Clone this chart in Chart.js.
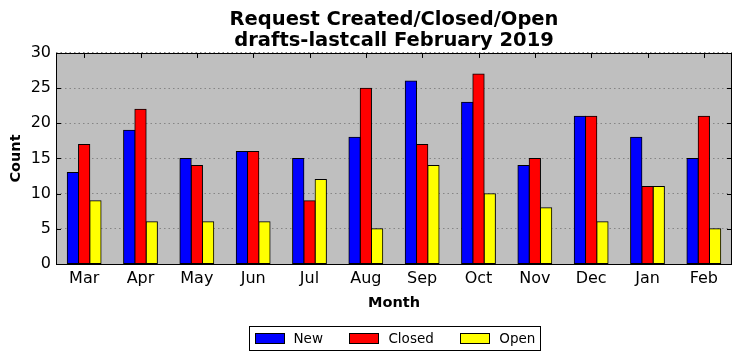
<!DOCTYPE html>
<html>
<head>
<meta charset="utf-8">
<script src="https://cdn.jsdelivr.net/npm/chart.js@4"></script>
<style>
  html, body { margin: 0; padding: 0; background: #fff; }
</style>
</head>
<body>
<canvas id="barChart" width="742" height="361"></canvas>
<script>
const months = ['Mar', 'Apr', 'May', 'Jun', 'Jul', 'Aug', 'Sep', 'Oct', 'Nov', 'Dec', 'Jan', 'Feb'];
const newReqs = [13, 19, 15, 16, 15, 18, 26, 23, 14, 21, 18, 15];
const closedReqs = [17, 22, 14, 16, 9, 25, 17, 27, 15, 21, 11, 21];
const openReqs = [9, 6, 6, 6, 12, 5, 14, 10, 8, 6, 11, 5];
const yTicks = [0, 5, 10, 15, 20, 25, 30];

Chart.defaults.font.family = 'DejaVu Sans';
Chart.defaults.color = '#000';

// matplotlib-ish frame: grey axes background, inward ticks, black border, boxed legend
const framePlugin = {
  id: 'frame',
  beforeDraw(chart) {
    const { ctx, chartArea: a } = chart;
    ctx.save();
    ctx.fillStyle = '#bfbfbf';
    ctx.fillRect(a.left, a.top, a.right - a.left, a.bottom - a.top);
    ctx.restore();
  },
  beforeDatasetsDraw(chart) {
    const { ctx, chartArea: a, scales } = chart;
    ctx.save();
    ctx.strokeStyle = '#000';
    ctx.lineWidth = 1;
    ctx.beginPath();
    months.forEach((m, i) => {
      const x = Math.round(scales.x.getPixelForValue(i)) + 0.5;
      ctx.moveTo(x, a.top); ctx.lineTo(x, a.top + 5);
      ctx.moveTo(x, a.bottom); ctx.lineTo(x, a.bottom - 5);
    });
    yTicks.forEach(v => {
      const y = Math.round(scales.y.getPixelForValue(v)) + 0.5;
      ctx.moveTo(a.left, y); ctx.lineTo(a.left + 5, y);
      ctx.moveTo(a.right, y); ctx.lineTo(a.right - 5, y);
    });
    ctx.stroke();
    ctx.restore();
  },
  afterDatasetsDraw(chart) {
    const { ctx, chartArea: a } = chart;
    ctx.save();
    ctx.strokeStyle = '#000';
    ctx.lineWidth = 1;
    ctx.strokeRect(Math.round(a.left) + 0.5, Math.round(a.top) + 0.5,
      Math.round(a.right - a.left) - 1, Math.round(a.bottom - a.top));
    ctx.restore();
  },
  afterDraw(chart) {
    const { ctx, chartArea: a } = chart;
    const sets = chart.data.datasets;
    ctx.save();
    ctx.font = '13.5px "DejaVu Sans"';
    const sw = 29, gap = 10, between = 26.5, padL = 5, padR = 5;
    const widths = sets.map(d => ctx.measureText(d.label).width);
    let total = padL + padR;
    widths.forEach((w, i) => { total += sw + gap + w + (i < sets.length - 1 ? between : 0); });
    const cx = (a.left + a.right) / 2 + 0.5;
    const bx = Math.round(cx - total / 2) + 0.5, by = 326.5, bh = 24;
    ctx.fillStyle = '#fff';
    ctx.fillRect(bx, by, total, bh);
    ctx.strokeStyle = '#000';
    ctx.lineWidth = 1;
    ctx.strokeRect(bx, by, Math.round(total), bh);
    let x = bx + padL;
    ctx.textBaseline = 'middle';
    sets.forEach((d, i) => {
      const sx = Math.round(x) + 0.5;
      ctx.fillStyle = d.backgroundColor;
      ctx.fillRect(sx, by + 7, sw, 10);
      ctx.strokeRect(sx, by + 7, sw, 10);
      ctx.fillStyle = '#000';
      ctx.fillText(d.label, x + sw + gap, by + bh / 2 + 0.5);
      x += sw + gap + widths[i] + between;
    });
    ctx.restore();
  }
};

const ctx = document.getElementById('barChart').getContext('2d');
new Chart(ctx, {
  type: 'bar',
  data: {
    labels: months,
    datasets: [
      { label: 'New', data: newReqs, backgroundColor: '#0000ff' },
      { label: 'Closed', data: closedReqs, backgroundColor: '#ff0000' },
      { label: 'Open', data: openReqs, backgroundColor: '#ffff00' }
    ].map(d => Object.assign(d, {
      borderColor: '#000',
      borderWidth: 1,
      borderSkipped: false,
      inflateAmount: 0.5,
      categoryPercentage: 0.6,
      barPercentage: 1
    }))
  },
  options: {
    responsive: false,
    animation: false,
    layout: { padding: { left: 0, right: 10, top: 0, bottom: 0 } },
    plugins: {
      legend: { display: false },
      tooltip: { enabled: false },
      title: {
        display: true,
        fullSize: false,
        text: ['Request Created/Closed/Open', 'drafts-lastcall February 2019'],
        font: { size: 19.5, weight: 'bold', lineHeight: 1.05 },
        color: '#000',
        padding: { top: 10, bottom: 2 }
      }
    },
    scales: {
      x: {
        grid: { display: false, drawTicks: false },
        border: { display: false },
        ticks: { font: { size: 16 }, padding: 5, maxRotation: 0 },
        title: {
          display: true, text: 'Month',
          font: { size: 14.5, weight: 'bold' },
          padding: { top: 0, bottom: 49 }
        },
        afterFit(scale) { scale.height = 97; }
      },
      y: {
        min: 0, max: 30,
        afterBuildTicks(scale) { scale.ticks = yTicks.map(v => ({ value: v })); },
        grid: {
          drawTicks: false,
          color: '#858585',
          lineWidth: 1
        },
        border: { display: false, dash: [1.5, 3] },
        ticks: { font: { size: 16 }, padding: 5 },
        title: {
          display: true, text: 'Count',
          font: { size: 14.5, weight: 'bold' },
          padding: { top: 7.5, bottom: 0 }
        },
        afterFit(scale) { scale.width = 56; }
      }
    }
  },
  plugins: [framePlugin]
});
</script>
</body>
</html>
